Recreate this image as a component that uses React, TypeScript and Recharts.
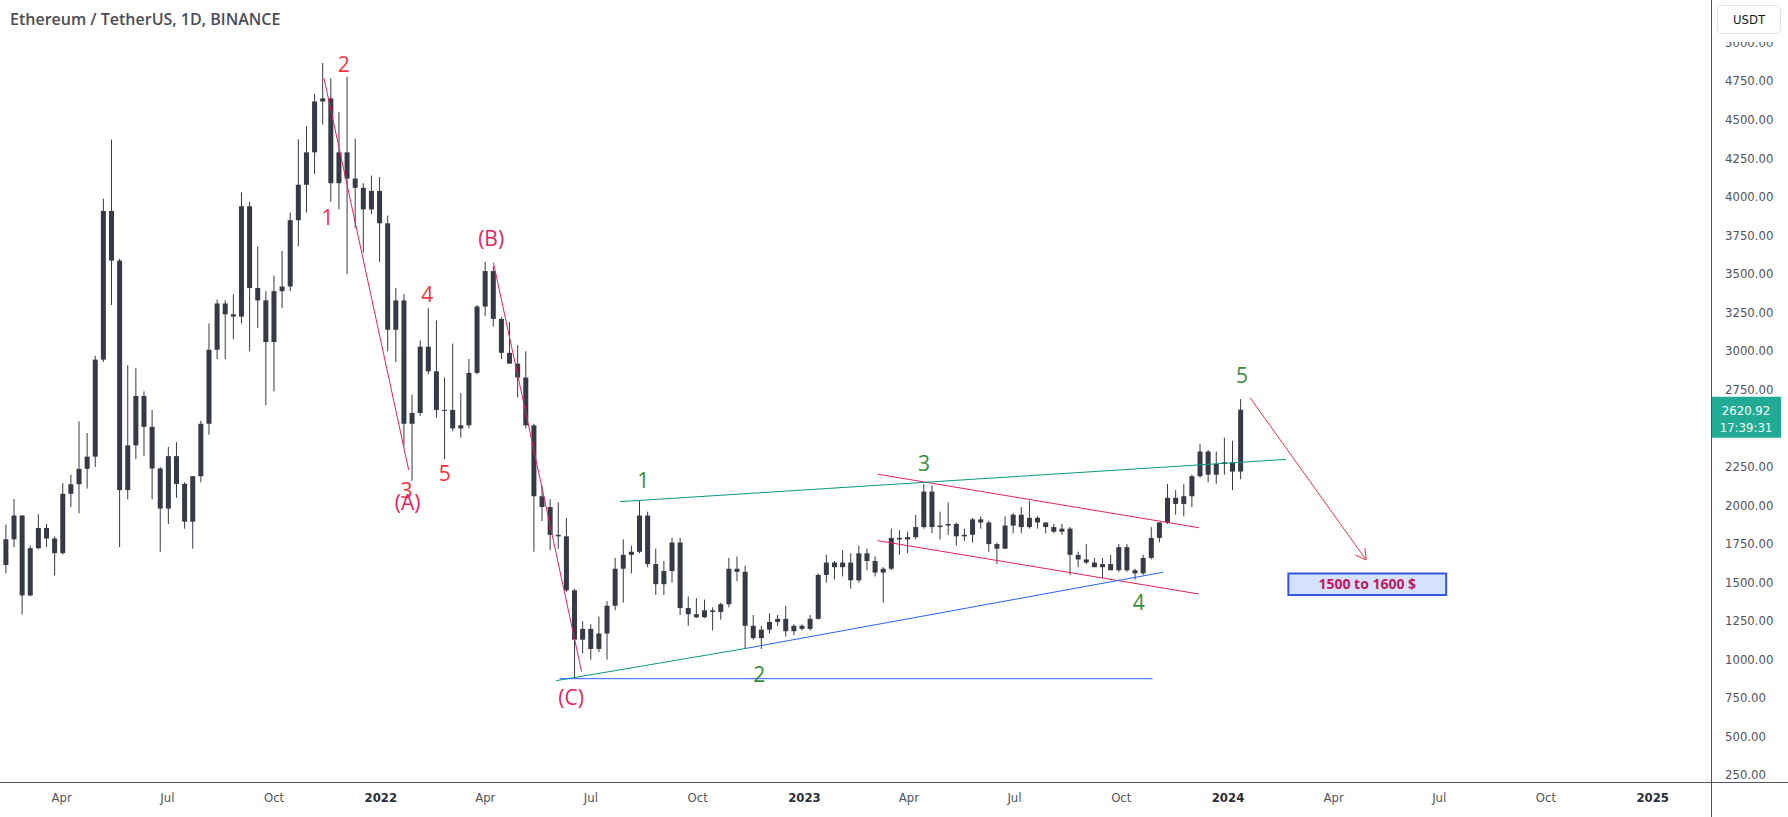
import React from "react";
import {
  ComposedChart,
  Bar,
  XAxis,
  YAxis,
  ReferenceLine,
  ReferenceDot,
  ReferenceArea,
} from "recharts";

const W = 1788;
const H = 817;

// weekly candles [open, high, low, close], first week starts on FIRST_WEEK
const FIRST_WEEK = "2021-02-08";
const CANDLES_2021 = [
  [1614, 1877, 1560, 1781], [1781, 2042, 1730, 1935], [1935, 1938, 1293, 1417], [1417, 1740, 1410, 1723],
  [1723, 1943, 1716, 1854], [1854, 1880, 1730, 1786], [1786, 1800, 1546, 1691], [1691, 2145, 1682, 2076],
  [2076, 2200, 1990, 2138], [2138, 2545, 1950, 2238], [2238, 2470, 2110, 2317], [2317, 2970, 2250, 2946],
  [2946, 3990, 2930, 3910], [3910, 4372, 3300, 3588], [3588, 3600, 1730, 2100], [2100, 2910, 2040, 2390],
  [2390, 2890, 2300, 2710], [2710, 2740, 2320, 2510], [2510, 2620, 2040, 2240], [2240, 2250, 1700, 1980],
  [1980, 2380, 1880, 2320], [2320, 2410, 2050, 2140], [2140, 2150, 1850, 1895], [1895, 2190, 1720, 2190],
  [2190, 2550, 2150, 2530], [2530, 3180, 2460, 3010], [3010, 3335, 2950, 3310], [3310, 3330, 2950, 3240],
  [3240, 3370, 3080, 3225], [3225, 4030, 3180, 3940], [3940, 3970, 3000, 3410], [3410, 3680, 3150, 3330],
  [3330, 3390, 2650, 3060], [3060, 3490, 2740, 3390], [3390, 3650, 3280, 3420], [3420, 3900, 3390, 3850],
  [3850, 4375, 3680, 4080], [4080, 4460, 3900, 4290], [4290, 4670, 4150, 4620], [4620, 4870, 4470, 4640],
  [4640, 4770, 3970, 4090], [4090, 4550, 3920, 4290], [4290, 4780, 3500, 4120], [4120, 4380, 3800, 4060],
  [4060, 4090, 3640, 3920], [3920, 4140, 3890, 4040], [4040, 4130, 3580, 3830],
];
const CANDLES_2022 = [
  [3830, 3880, 3000, 3140], [3140, 3410, 2930, 3330], [3330, 3370, 2380, 2530], [2530, 2720, 2160, 2600],
  [2600, 3070, 2580, 3030], [3030, 3280, 2850, 2870], [2870, 3200, 2570, 2620], [2620, 2830, 2300, 2620],
  [2620, 3050, 2480, 2500], [2500, 2730, 2440, 2520], [2520, 2950, 2500, 2860], [2860, 3300, 2850, 3290],
  [3290, 3580, 3230, 3520], [3520, 3550, 3160, 3210], [3210, 3220, 2950, 2990], [2990, 3190, 2920, 2920],
  [2920, 3040, 2700, 2830], [2830, 3000, 2500, 2520], [2520, 2530, 1700, 2060], [2060, 2130, 1900, 1990],
  [1990, 2040, 1710, 1810], [1810, 2020, 1720, 1800], [1800, 1920, 1440, 1450], [1450, 1460, 880, 1130],
  [1130, 1250, 1040, 1200], [1200, 1230, 1000, 1070], [1070, 1280, 1050, 1170], [1170, 1380, 1000, 1350],
  [1350, 1660, 1320, 1590], [1590, 1780, 1370, 1680], [1680, 1740, 1560, 1700], [1700, 2030, 1690, 1935],
  [1935, 1960, 1600, 1620], [1620, 1720, 1420, 1490], [1490, 1640, 1420, 1575], [1575, 1790, 1500, 1760],
  [1760, 1790, 1290, 1335], [1335, 1410, 1220, 1295], [1295, 1400, 1270, 1275], [1275, 1390, 1270, 1320],
  [1320, 1340, 1190, 1310], [1310, 1370, 1260, 1360], [1360, 1660, 1340, 1590], [1590, 1670, 1510, 1570],
  [1570, 1610, 1070, 1220], [1220, 1290, 1130, 1140], [1140, 1220, 1070, 1195], [1195, 1300, 1170, 1245],
  [1245, 1290, 1220, 1265], [1265, 1350, 1150, 1185], [1185, 1230, 1160, 1220], [1220, 1230, 1190, 1200],
];
const CANDLES_2023 = [
  [1200, 1290, 1190, 1265], [1265, 1560, 1260, 1550], [1550, 1680, 1500, 1630], [1630, 1640, 1520, 1600],
  [1600, 1710, 1540, 1630], [1630, 1690, 1460, 1515], [1515, 1740, 1500, 1690], [1690, 1720, 1580, 1640],
  [1640, 1670, 1540, 1565], [1565, 1600, 1370, 1590], [1590, 1850, 1580, 1790], [1790, 1840, 1680, 1780],
  [1780, 1830, 1690, 1795], [1795, 1940, 1780, 1860], [1860, 2140, 1850, 2090], [2090, 2130, 1820, 1860],
  [1860, 1960, 1780, 1870], [1870, 2020, 1810, 1880], [1880, 1890, 1740, 1800], [1800, 1850, 1770, 1810],
  [1810, 1920, 1760, 1910], [1910, 1930, 1850, 1890], [1890, 1900, 1700, 1750], [1750, 1760, 1620, 1720],
  [1720, 1930, 1720, 1870], [1870, 1950, 1820, 1940], [1940, 1990, 1820, 1860], [1860, 2030, 1850, 1920],
  [1920, 1930, 1850, 1890], [1890, 1890, 1820, 1860], [1860, 1880, 1820, 1830], [1830, 1880, 1810, 1850],
  [1850, 1860, 1550, 1680], [1680, 1700, 1600, 1650], [1650, 1750, 1620, 1630], [1630, 1660, 1600, 1600],
  [1600, 1660, 1530, 1620], [1620, 1680, 1580, 1580], [1580, 1750, 1570, 1730], [1730, 1750, 1570, 1580],
  [1580, 1590, 1520, 1560], [1560, 1680, 1550, 1660], [1660, 1860, 1650, 1790], [1790, 1890, 1760, 1890],
  [1890, 2140, 1880, 2050], [2050, 2100, 1940, 2010], [2010, 2140, 1930, 2060], [2060, 2200, 1990, 2190],
  [2190, 2400, 2180, 2350], [2350, 2360, 2150, 2200], [2200, 2350, 2140, 2270], [2270, 2440, 2200, 2280],
];
const CANDLES_2024 = [
  [2280, 2420, 2100, 2220], [2220, 2690, 2170, 2620.92],
];

const LAST_PRICE = 2620.92;
const COUNTDOWN = "17:39:31";

const TICK_DATES = [
  "2021-04-01", "2021-07-01", "2021-10-01", "2022-01-01", "2022-04-01", "2022-07-01", "2022-10-01", "2023-01-01",
  "2023-04-01", "2023-07-01", "2023-10-01", "2024-01-01", "2024-04-01", "2024-07-01", "2024-10-01", "2025-01-01",
];
const TICK_LABELS = ["Apr", "Jul", "Oct", "2022", "Apr", "Jul", "Oct", "2023", "Apr", "Jul", "Oct", "2024", "Apr", "Jul", "Oct", "2025"];
// 2500 sits under the last-price tag, so it is not shown
const PRICE_TICKS = [250, 500, 750, 1000, 1250, 1500, 1750, 2000, 2250, 2750, 3000, 3250, 3500, 3750, 4000, 4250, 4500, 4750, 5000];

// drawings: [date, price] pairs
const PINK_LINES: [string, number][][] = [
  [["2021-11-13", 4771], ["2022-01-25", 2230]],
  [["2022-04-08", 3575], ["2022-06-23", 922]],
  [["2023-03-05", 2203], ["2023-12-07", 1856]],
  [["2023-03-05", 1772], ["2023-12-07", 1426]],
];
const GREEN_LINES: [string, number][][] = [
  [["2022-07-26", 2025], ["2024-02-20", 2299]],
  [["2022-06-01", 864], ["2022-11-12", 1074]],
];
const BLUE_LINES: [string, number][][] = [
  [["2022-11-12", 1074], ["2023-11-06", 1567]],
  [["2022-06-04", 877], ["2023-10-28", 877]],
];
const ARROW: [string, number][] = [["2024-01-20", 2699], ["2024-04-29", 1647]];
const TARGET_BOX = { from: "2024-02-22", to: "2024-07-07", low: 1419, high: 1559, text: "1500 to 1600 $" };

const RED_LABELS: [string, string, number][] = [
  ["2", "2021-11-30", 4865], ["1", "2021-11-16", 3873], ["4", "2022-02-10", 3370], ["3", "2022-01-23", 2101],
  ["5", "2022-02-25", 2212],
];
const PINK_LABELS: [string, string, number][] = [
  ["(A)", "2022-01-24", 2025], ["(B)", "2022-04-06", 3736], ["(C)", "2022-06-14", 756],
];
const GREEN_LABELS: [string, string, number][] = [
  ["1", "2022-08-15", 2166], ["2", "2022-11-23", 905], ["3", "2023-04-14", 2278], ["4", "2023-10-16", 1375],
  ["5", "2024-01-13", 2845],
];

const day = (s: string) => (Date.parse(s) - Date.parse("2022-01-01")) / 86400000;

const data = [...CANDLES_2021, ...CANDLES_2022, ...CANDLES_2023, ...CANDLES_2024].map((c, i) => ({
  t: day(FIRST_WEEK) + i * 7 + 3.5,
  o: c[0],
  h: c[1],
  l: c[2],
  c: c[3],
}));

const TICK_DAYS = TICK_DATES.map(day);
const X_DOMAIN = [-328.2, 1146.2];
const Y_DOMAIN = [207, 5278];

const AXIS_FONT = "'Liberation Sans Narrow', 'DejaVu Sans Condensed', Roboto, sans-serif";
const LABEL_FONT = "'Open Sans', 'Noto Sans', sans-serif";

const CANDLE = "#363a45";
const PINK = "#e91e63";
const RED = "#f23645";
const GREEN_LINE = "#089981";
const GREEN_TEXT = "#388e3c";
const BLUE = "#2962ff";

const Candle = (props: any) => {
  const { x, y, width, height, payload } = props;
  if (!payload) return null;
  const top = Math.min(y, y + height);
  const bottom = Math.max(y, y + height);
  const span = payload.h - payload.l || 1;
  const py = (v: number) => top + ((payload.h - v) / span) * (bottom - top);
  const b1 = py(Math.max(payload.o, payload.c));
  const b2 = py(Math.min(payload.o, payload.c));
  const cx = x + width / 2;
  return (
    <g>
      <line x1={cx} x2={cx} y1={top} y2={bottom} stroke={CANDLE} strokeWidth={1} />
      <rect x={x} y={b1} width={width} height={Math.max(1, b2 - b1)} fill={CANDLE} />
    </g>
  );
};

const XTick = ({ x, y, payload }: any) => {
  const i = TICK_DAYS.findIndex((d) => Math.abs(d - payload.value) < 0.01);
  const label = TICK_LABELS[i] ?? "";
  const isYear = /^\d{4}$/.test(label);
  return (
    <text x={x} y={y + 12} textAnchor="middle" fontSize={13} fontFamily={AXIS_FONT} fontWeight={isYear ? 700 : 400} fill={isYear ? "#2a2e39" : "#50535e"}>
      {label}
    </text>
  );
};

const YTick = ({ x, y, payload }: any) => (
  <text x={x} y={y + 4} textAnchor="start" fontSize={13} fontFamily={AXIS_FONT} fill="#50535e">
    {Number(payload.value).toFixed(2)}
  </text>
);

const textShape = (label: string, color: string) => (p: any) => (
  <text x={p.cx} y={p.cy} textAnchor="middle" dominantBaseline="central" fontSize={21} fontFamily={LABEL_FONT} fill={color}>
    {label}
  </text>
);

const arrowShape = (p: any) => {
  const { x1, y1, x2, y2 } = p;
  const a = Math.atan2(y2 - y1, x2 - x1);
  const len = 12;
  const w1 = [x2 - len * Math.cos(a - Math.PI / 6), y2 - len * Math.sin(a - Math.PI / 6)];
  const w2 = [x2 - len * Math.cos(a + Math.PI / 6), y2 - len * Math.sin(a + Math.PI / 6)];
  return (
    <g stroke={RED} strokeWidth={1} fill="none">
      <line x1={x1} y1={y1} x2={x2} y2={y2} />
      <polyline points={`${w1[0]},${w1[1]} ${x2},${y2} ${w2[0]},${w2[1]}`} />
    </g>
  );
};

const priceTagShape = (p: any) => (
  <g>
    <rect x={p.cx + 1} y={p.cy - 13} width={69} height={41} fill="#22ab94" />
    <text x={p.cx + 35} y={p.cy + 5} textAnchor="middle" fontSize={13} fontFamily={AXIS_FONT} fill="#ffffff">
      {LAST_PRICE.toFixed(2)}
    </text>
    <text x={p.cx + 35} y={p.cy + 22} textAnchor="middle" fontSize={13} fontFamily={AXIS_FONT} fill="#e6fff9">
      {COUNTDOWN}
    </text>
  </g>
);

const seg = (s: [string, number][]) => s.map(([d, v]) => ({ x: day(d), y: v }));

export default function App() {
  return (
    <div style={{ position: "relative", width: W, height: H, background: "#ffffff" }}>
      <style>{"body{margin:0;background:#fff}"}</style>
      <ComposedChart width={W} height={H} data={data} margin={{ top: 0, right: 0, bottom: 0, left: 0 }}>
        <XAxis
          dataKey="t"
          type="number"
          domain={X_DOMAIN}
          allowDataOverflow
          ticks={TICK_DAYS}
          interval={0}
          height={35}
          axisLine={false}
          tickLine={false}
          tick={<XTick />}
        />
        <YAxis
          orientation="right"
          type="number"
          domain={Y_DOMAIN}
          allowDataOverflow
          ticks={PRICE_TICKS}
          interval={0}
          width={77}
          axisLine={false}
          tickLine={false}
          tickMargin={8}
          tick={<YTick />}
        />
        <Bar dataKey={(d: any) => [d.l, d.h]} barSize={5} shape={<Candle />} isAnimationActive={false} />

        {PINK_LINES.map((s, i) => (
          <ReferenceLine key={`p${i}`} segment={seg(s)} stroke={PINK} strokeWidth={1} ifOverflow="visible" />
        ))}
        {GREEN_LINES.map((s, i) => (
          <ReferenceLine key={`g${i}`} segment={seg(s)} stroke={GREEN_LINE} strokeWidth={1} ifOverflow="visible" />
        ))}
        {BLUE_LINES.map((s, i) => (
          <ReferenceLine key={`b${i}`} segment={seg(s)} stroke={BLUE} strokeWidth={1} ifOverflow="visible" />
        ))}
        <ReferenceLine segment={seg(ARROW)} stroke={RED} ifOverflow="visible" shape={arrowShape} />

        <ReferenceArea
          x1={day(TARGET_BOX.from)}
          x2={day(TARGET_BOX.to)}
          y1={TARGET_BOX.low}
          y2={TARGET_BOX.high}
          fill="#d4e2ff"
          fillOpacity={1}
          stroke="#3558e0"
          strokeWidth={2}
          ifOverflow="visible"
          label={{ value: TARGET_BOX.text, position: "center", fill: "#c2185b", fontSize: 14, fontWeight: 700, fontFamily: LABEL_FONT }}
        />

        {RED_LABELS.map(([t, d, v], i) => (
          <ReferenceDot key={`rl${i}`} x={day(d)} y={v} r={0} ifOverflow="visible" shape={textShape(t, RED)} />
        ))}
        {PINK_LABELS.map(([t, d, v], i) => (
          <ReferenceDot key={`pl${i}`} x={day(d)} y={v} r={0} ifOverflow="visible" shape={textShape(t, PINK)} />
        ))}
        {GREEN_LABELS.map(([t, d, v], i) => (
          <ReferenceDot key={`gl${i}`} x={day(d)} y={v} r={0} ifOverflow="visible" shape={textShape(t, GREEN_TEXT)} />
        ))}
        <ReferenceDot x={X_DOMAIN[1]} y={LAST_PRICE} r={0} ifOverflow="visible" shape={priceTagShape} />
      </ComposedChart>

      <div style={{ position: "absolute", left: 0, top: 782, width: W, height: 1, background: "#50535e" }} />
      <div style={{ position: "absolute", left: 1711, top: 0, width: 1, height: H, background: "#50535e" }} />
      <div
        style={{
          position: "absolute",
          left: 10,
          top: 8,
          fontFamily: LABEL_FONT,
          fontSize: 16,
          fontWeight: 600,
          color: "#4a4d57",
          lineHeight: "22px",
          background: "rgba(255,255,255,0.85)",
        }}
      >
        Ethereum / TetherUS, 1D, BINANCE
      </div>
      <div style={{ position: "absolute", left: 1712, top: 0, width: 76, height: 42, background: "#ffffff" }} />
      <div
        style={{
          position: "absolute",
          left: 1717,
          top: 5,
          width: 64,
          height: 29,
          boxSizing: "border-box",
          border: "1px solid #e0e3eb",
          borderRadius: 5,
          background: "#ffffff",
          fontFamily: AXIS_FONT,
          fontSize: 13,
          color: "#131722",
          display: "flex",
          alignItems: "center",
          justifyContent: "center",
        }}
      >
        USDT
      </div>
    </div>
  );
}
